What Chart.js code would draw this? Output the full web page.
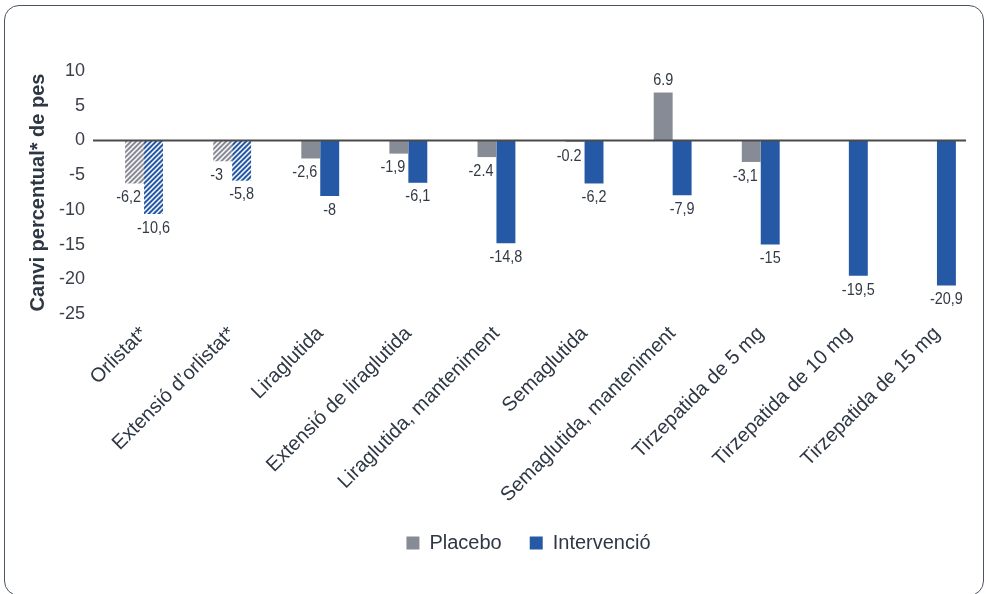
<!DOCTYPE html>
<html>
<head>
<meta charset="utf-8">
<title>Canvi percentual de pes</title>
<script src="https://cdn.jsdelivr.net/npm/chart.js@4/dist/chart.umd.min.js"></script>
<style>
  html, body { margin: 0; padding: 0; background: #fff; }
  #wrap { position: relative; width: 986px; height: 594px; overflow: hidden; }
  #frame { position: absolute; left: 4px; top: 5px; width: 980px; height: 591px; box-sizing: border-box;
           border: 1.5px solid #4a5463; border-radius: 15px; }
  #chart { position: absolute; left: 0; top: 0; }
</style>
</head>
<body>
<div id="wrap">
  <div id="frame"></div>
  <canvas id="chart" width="986" height="594"></canvas>
</div>
<script>
const categories = ['Orlistat*', 'Extensió d’orlistat*', 'Liraglutida', 'Extensió de liraglutida',
  'Liraglutida, manteniment', 'Semaglutida', 'Semaglutida, manteniment',
  'Tirzepatida de 5 mg', 'Tirzepatida de 10 mg', 'Tirzepatida de 15 mg'];
const placebo = [-6.2, -3, -2.6, -1.9, -2.4, -0.2, 6.9, -3.1, null, null];
const intervencio = [-10.6, -5.8, -8, -6.1, -14.8, -6.2, -7.9, -15, -19.5, -20.9];
// labels as printed in the original (mixed decimal separators)
const placeboLabels = ['-6,2', '-3', '-2,6', '-1,9', '-2.4', '-0.2', '6.9', '-3,1', '', ''];
const intervencioLabels = ['-10,6', '-5,8', '-8', '-6,1', '-14,8', '-6,2', '-7,9', '-15', '-19,5', '-20,9'];
const hatched = [true, true, false, false, false, false, false, false, false, false];

const GREY = '#878b95';
const BLUE = '#2558a5';
const TEXT = '#2e3744';
const FONT = '"Liberation Sans", Arial, sans-serif';

function hatch(color) {
    const s = 5;
    const c = document.createElement('canvas');
    c.width = s; c.height = s;
    const g = c.getContext('2d');
    g.fillStyle = color;
    g.fillRect(0, 0, s, s);
    g.strokeStyle = '#ffffff';
    g.lineWidth = 1.5;
    g.beginPath();
    g.moveTo(-1, s + 1); g.lineTo(s + 1, -1);
    g.moveTo(-1, 1); g.lineTo(1, -1);
    g.moveTo(s - 1, s + 1); g.lineTo(s + 1, s - 1);
    g.stroke();
    return g.createPattern(c, 'repeat');
}
const ctx = document.getElementById('chart').getContext('2d');
const greyFill = categories.map((_, i) => hatched[i] ? hatch(GREY) : GREY);
const blueFill = categories.map((_, i) => hatched[i] ? hatch(BLUE) : BLUE);

const zeroLine = {
    id: 'zeroLine',
    afterDatasetsDraw(chart) {
        const {ctx, chartArea, scales} = chart;
        const y = scales.y.getPixelForValue(0);
        ctx.save();
        ctx.strokeStyle = '#4a4a4a';
        ctx.lineWidth = 2;
        ctx.beginPath();
        ctx.moveTo(chartArea.left - 7, y);
        ctx.lineTo(chartArea.right - 15, y);
        ctx.stroke();
        ctx.restore();
    }
};

const valueLabels = {
    id: 'valueLabels',
    afterDatasetsDraw(chart) {
        const {ctx} = chart;
        const sets = [placeboLabels, intervencioLabels];
        ctx.save();
        ctx.fillStyle = '#333a44';
        ctx.font = '17px ' + FONT;
        ctx.textAlign = 'center';
        ctx.textBaseline = 'middle';
        sets.forEach((labels, di) => {
            const meta = chart.getDatasetMeta(di);
            const vals = chart.data.datasets[di].data;
            meta.data.forEach((el, i) => {
                const t = labels[i];
                if (!t || vals[i] === null) return;
                let x = el.x, y;
                if (vals[i] >= 0) y = el.y - 12;
                else { y = el.y + 14; if (di === 0) x -= 6; }
                ctx.save();
                ctx.translate(x, y);
                ctx.scale(0.85, 1);
                ctx.fillText(t, 0, 0);
                ctx.restore();
            });
        });
        ctx.restore();
    }
};

// nudge the legend a bit to the left, like the original
const legendShift = {
    id: 'legendShift',
    afterLayout(chart) {
        chart.legend.left -= 12;
        chart.legend.right -= 12;
    }
};

new Chart(ctx, {
    type: 'bar',
    data: {
        labels: categories,
        datasets: [
            { label: 'Placebo', data: placebo, backgroundColor: greyFill, borderWidth: 0 },
            { label: 'Intervenció', data: intervencio, backgroundColor: blueFill, borderWidth: 0 }
        ]
    },
    options: {
        responsive: false,
        animation: false,
        categoryPercentage: 0.43,
        barPercentage: 1.0,
        layout: { padding: { top: 71, bottom: 31, left: 0, right: 5 } },
        plugins: {
            tooltip: { enabled: false },
            legend: {
                position: 'bottom',
                fullSize: false,
                labels: {
                    color: TEXT,
                    font: { family: FONT, size: 20 },
                    boxWidth: 13, boxHeight: 13, padding: 28,
                    generateLabels: () => [
                        { text: 'Placebo', fillStyle: GREY, strokeStyle: GREY, lineWidth: 0, datasetIndex: 0, fontColor: TEXT },
                        { text: 'Intervenció', fillStyle: BLUE, strokeStyle: BLUE, lineWidth: 0, datasetIndex: 1, fontColor: TEXT }
                    ]
                }
            }
        },
        scales: {
            x: {
                grid: { display: false, drawTicks: false },
                border: { display: false },
                ticks: {
                    color: TEXT, autoSkip: false, minRotation: 45, maxRotation: 45, padding: 8,
                    font: { family: FONT, size: 20 }
                },
                afterFit: s => { s.height = 191; }
            },
            y: {
                min: -25, max: 10,
                grid: { display: false, drawTicks: false },
                border: { display: false },
                ticks: {
                    stepSize: 5, color: '#3a3f48', padding: 15,
                    font: { family: FONT, size: 18 }
                },
                title: {
                    display: true, text: 'Canvi percentual* de pes', color: TEXT,
                    font: { family: FONT, size: 20, weight: 'bold' },
                    padding: { top: 26, bottom: 0 }
                },
                afterFit: s => { s.width = 100; }
            }
        }
    },
    plugins: [zeroLine, valueLabels, legendShift]
});
</script>
</body>
</html>
